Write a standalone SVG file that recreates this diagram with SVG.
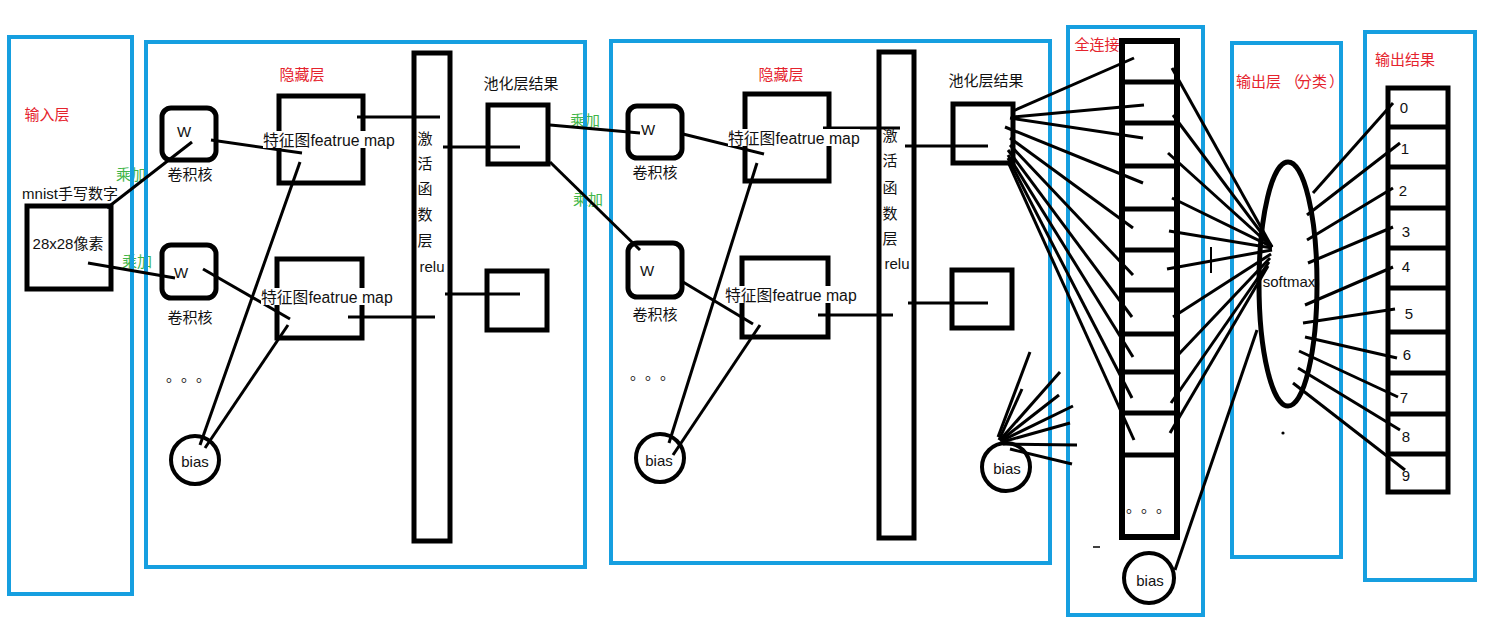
<svg xmlns="http://www.w3.org/2000/svg" width="1485" height="632" viewBox="0 0 1485 632">
<style>
.t{font-family:"Liberation Sans","Noto Sans CJK SC",sans-serif;font-size:15px;fill:#111}
.cj{font-family:"Noto Sans CJK SC","Liberation Sans",sans-serif}
.fm{font-size:15.8px}
.c{text-anchor:middle;dominant-baseline:central}
.red{fill:#e5232d}
.green{fill:#41b549}
.blue{fill:none;stroke:#169fe0;stroke-width:4}
.box{fill:none;stroke:#000;stroke-width:5}
.ln{stroke:#000;stroke-width:3;fill:none}
.bg{fill:#fff}
</style>
<rect width="1485" height="632" fill="#fff"/>

<g id="labels-green">
<text class="t c cj green" x="131" y="173">乘加</text>
<text class="t c cj green" x="137" y="260">乘加</text>
<text class="t c cj green" x="585" y="119">乘加</text>
<text class="t c cj green" x="588" y="198">乘加</text>
</g>

<g id="panels">
<rect id="panel-input" class="blue" x="9" y="37" width="123" height="557"/>
<rect id="panel-hidden1" class="blue" x="146" y="42" width="439" height="525"/>
<rect id="panel-hidden2" class="blue" x="611" y="41" width="439" height="522"/>
<rect id="panel-fc" class="blue" x="1068" y="27" width="135" height="588"/>
<rect id="panel-out" class="blue" x="1232" y="43" width="109" height="514"/>
<rect id="panel-result" class="blue" x="1365" y="32" width="110" height="548"/>
<text class="t c cj red" x="47" y="113">输入层</text>
<text class="t c cj red" x="302" y="73">隐藏层</text>
<text class="t c cj red" x="781" y="73">隐藏层</text>
<text class="t c cj red" x="1097" y="43">全连接</text>
<text class="t cj red" x="1236 1251 1266 1285 1297 1312 1329" y="80" dominant-baseline="central">输出层（分类）</text>
<text class="t c cj red" x="1405" y="58">输出结果</text>
</g>

<g id="connectors">
<line class="ln" x1="107" y1="208" x2="192" y2="142"/>
<line class="ln" x1="88" y1="263" x2="175" y2="278"/>
<line class="ln" x1="211" y1="140" x2="302" y2="153"/>
<line class="ln" x1="203" y1="269" x2="290" y2="319"/>
<line class="ln" x1="200" y1="445" x2="300" y2="162"/>
<line class="ln" x1="205" y1="448" x2="288" y2="325"/>
<line class="ln" x1="357" y1="117" x2="440" y2="117"/>
<line class="ln" x1="443" y1="147" x2="520" y2="147"/>
<line class="ln" x1="348" y1="317" x2="435" y2="317"/>
<line class="ln" x1="445" y1="294" x2="520" y2="294"/>
<line class="ln" x1="550" y1="125" x2="640" y2="133"/>
<line class="ln" x1="550" y1="162" x2="640" y2="250"/>

<line class="ln" x1="683" y1="134" x2="764" y2="154"/>
<line class="ln" x1="683" y1="282" x2="753" y2="324"/>
<line class="ln" x1="669" y1="443" x2="757" y2="163"/>
<line class="ln" x1="673" y1="455" x2="760" y2="325"/>
<line class="ln" x1="823" y1="128" x2="900" y2="128"/>
<line class="ln" x1="905" y1="146" x2="988" y2="146"/>
<line class="ln" x1="818" y1="315" x2="893" y2="315"/>
<line class="ln" x1="908" y1="303" x2="988" y2="303"/>

<line class="ln" x1="998" y1="437" x2="1030" y2="352"/>
<line class="ln" x1="999" y1="440" x2="1022" y2="389"/>
<line class="ln" x1="1000" y1="440" x2="1060" y2="372"/>
<line class="ln" x1="1000" y1="441" x2="1059" y2="395"/>
<line class="ln" x1="1001" y1="441" x2="1073" y2="406"/>
<line class="ln" x1="1002" y1="442" x2="1070" y2="423"/>
<line class="ln" x1="1003" y1="444" x2="1077" y2="445"/>
<line class="ln" x1="1010" y1="449" x2="1072" y2="464"/>

<line class="ln" x1="1013" y1="111" x2="1134" y2="58"/>
<line class="ln" x1="1013" y1="117" x2="1144" y2="105"/>
<line class="ln" x1="1010" y1="118" x2="1143" y2="138"/>
<line class="ln" x1="1005" y1="127" x2="1143" y2="183"/>
<line class="ln" x1="1010" y1="138" x2="1133" y2="228"/>
<line class="ln" x1="1010" y1="145" x2="1133" y2="275"/>
<line class="ln" x1="1008" y1="150" x2="1132" y2="317"/>
<line class="ln" x1="1008" y1="155" x2="1133" y2="357"/>
<line class="ln" x1="1008" y1="158" x2="1132" y2="398"/>
<line class="ln" x1="1008" y1="162" x2="1134" y2="440"/>

<line class="ln" x1="1172" y1="68" x2="1272" y2="247"/>
<line class="ln" x1="1173" y1="115" x2="1272" y2="247"/>
<line class="ln" x1="1168" y1="153" x2="1272" y2="247"/>
<line class="ln" x1="1172" y1="198" x2="1272" y2="247"/>
<line class="ln" x1="1169" y1="231" x2="1272" y2="248"/>
<line class="ln" x1="1167" y1="269" x2="1272" y2="250"/>
<line class="ln" x1="1173" y1="317" x2="1271" y2="254"/>
<line class="ln" x1="1178" y1="355" x2="1270" y2="258"/>
<line class="ln" x1="1171" y1="403" x2="1269" y2="262"/>
<line class="ln" x1="1170" y1="433" x2="1268" y2="266"/>
<line class="ln" x1="1175" y1="570" x2="1257" y2="330"/>

<line class="ln" x1="1313" y1="193" x2="1393" y2="103"/>
<line class="ln" x1="1307" y1="215" x2="1400" y2="143"/>
<line class="ln" x1="1307" y1="240" x2="1393" y2="188"/>
<line class="ln" x1="1308" y1="263" x2="1393" y2="227"/>
<line class="ln" x1="1305" y1="305" x2="1393" y2="267"/>
<line class="ln" x1="1303" y1="323" x2="1395" y2="309"/>
<line class="ln" x1="1305" y1="337" x2="1397" y2="358"/>
<line class="ln" x1="1299" y1="351" x2="1398" y2="397"/>
<line class="ln" x1="1298" y1="368" x2="1400" y2="430"/>
<line class="ln" x1="1293" y1="383" x2="1405" y2="470"/>

<line x1="1211" y1="247" x2="1211" y2="273" stroke="#000" stroke-width="2"/>
<line x1="1093" y1="547" x2="1100" y2="547" stroke="#000" stroke-width="1.5"/>
<circle cx="1283" cy="433" r="1.6" fill="#000"/>
</g>

<g id="node-mnist">
<rect class="box" x="27" y="206" width="84" height="83"/>
<text class="t c" x="70" y="193">mnist手写数字</text>
<text class="t c" x="68" y="243">28x28像素</text>
</g>

<g id="node-w1">
<rect class="box" x="162" y="108" width="54" height="52" rx="9"/>
<text class="t c" x="184" y="131">W</text>
<text class="t c cj" x="190" y="173">卷积核</text>
</g>
<g id="node-w2">
<rect class="box" x="162" y="245" width="54" height="53" rx="9"/>
<text class="t c" x="181" y="272">W</text>
<text class="t c cj" x="190" y="316">卷积核</text>
</g>
<g id="node-fm1">
<rect class="box" x="279" y="96" width="84" height="87"/>
<rect class="bg" x="263" y="131" width="132" height="17"/>
<text class="t fm" x="263" y="140" dominant-baseline="central">特征图featrue map</text>
</g>
<g id="node-fm2">
<rect class="box" x="277" y="259" width="85" height="79"/>
<rect class="bg" x="261" y="288" width="132" height="17"/>
<text class="t fm" x="261" y="297" dominant-baseline="central">特征图featrue map</text>
</g>
<g id="node-dots1">
<text class="t cj" x="166 181 196" y="381">。。。</text>
</g>
<g id="node-bias1">
<circle cx="195" cy="460" r="24" fill="none" stroke="#000" stroke-width="4"/>
<text class="t c" x="195" y="461">bias</text>
</g>
<g id="node-relu1">
<rect class="box" x="414" y="53" width="36" height="488"/>
<text class="t c cj" x="425" y="137">激</text>
<text class="t c cj" x="425" y="162">活</text>
<text class="t c cj" x="425" y="187">函</text>
<text class="t c cj" x="425" y="213">数</text>
<text class="t c cj" x="425" y="239">层</text>
<text class="t c" x="432" y="266">relu</text>
</g>
<g id="node-pool1">
<text class="t c cj" x="521" y="82">池化层结果</text>
<rect class="box" x="488" y="105" width="60" height="59"/>
</g>
<g id="node-pool2">
<rect class="box" x="487" y="271" width="60" height="59"/>
</g>

<g id="node-w3">
<rect class="box" x="628" y="106" width="54" height="52" rx="9"/>
<text class="t c" x="648" y="129">W</text>
<text class="t c cj" x="655" y="171">卷积核</text>
</g>
<g id="node-w4">
<rect class="box" x="628" y="243" width="54" height="54" rx="9"/>
<text class="t c" x="647" y="270">W</text>
<text class="t c cj" x="655" y="313">卷积核</text>
</g>
<g id="node-fm3">
<rect class="box" x="745" y="94" width="84" height="87"/>
<rect class="bg" x="728" y="129" width="132" height="17"/>
<text class="t fm" x="728" y="138" dominant-baseline="central">特征图featrue map</text>
</g>
<g id="node-fm4">
<rect class="box" x="742" y="258" width="86" height="79"/>
<rect class="bg" x="725" y="286" width="132" height="17"/>
<text class="t fm" x="725" y="295" dominant-baseline="central">特征图featrue map</text>
</g>
<g id="node-dots2">
<text class="t cj" x="630 645 660" y="379">。。。</text>
</g>
<g id="node-bias2">
<circle cx="660" cy="458" r="24" fill="none" stroke="#000" stroke-width="4"/>
<text class="t c" x="659" y="460">bias</text>
</g>
<g id="node-relu2">
<rect class="box" x="879" y="52" width="35" height="486"/>
<text class="t c cj" x="890" y="134">激</text>
<text class="t c cj" x="890" y="159">活</text>
<text class="t c cj" x="890" y="186">函</text>
<text class="t c cj" x="890" y="212">数</text>
<text class="t c cj" x="890" y="237">层</text>
<text class="t c" x="897" y="263">relu</text>
</g>
<g id="node-pool3">
<text class="t c cj" x="986" y="79">池化层结果</text>
<rect class="box" x="953" y="104" width="60" height="59"/>
</g>
<g id="node-pool4">
<rect class="box" x="952" y="270" width="60" height="58"/>
</g>
<g id="node-bias3">
<circle cx="1006" cy="467" r="24" fill="none" stroke="#000" stroke-width="4"/>
<text class="t c" x="1007" y="468">bias</text>
</g>

<g id="node-fc">
<rect x="1122" y="41" width="55" height="496" fill="none" stroke="#000" stroke-width="6"/>
<path d="M1122 82H1177M1122 123H1177M1122 166H1177M1122 209H1177M1122 250H1177M1122 290H1177M1122 334H1177M1122 372H1177M1122 413H1177M1122 455H1177" stroke="#000" stroke-width="5"/>
<text class="t cj" x="1126 1141 1156" y="512">。。。</text>
</g>
<g id="node-bias4">
<circle cx="1149" cy="578" r="25" fill="none" stroke="#000" stroke-width="4"/>
<text class="t c" x="1150" y="580">bias</text>
</g>

<g id="node-softmax">
<ellipse cx="1288" cy="284" rx="29" ry="122" fill="none" stroke="#000" stroke-width="5"/>
<text class="t c" x="1289" y="281">softmax</text>
</g>

<g id="node-result">
<rect x="1388" y="88" width="60" height="404" fill="none" stroke="#000" stroke-width="5"/>
<path d="M1388 127H1448M1388 167H1448M1388 208H1448M1388 248H1448M1388 288H1448M1388 332H1448M1388 373H1448M1388 414H1448M1388 454H1448" stroke="#000" stroke-width="5"/>
<text class="t c" x="1404" y="107" font-size="14">0</text>
<text class="t c" x="1405" y="148" font-size="14">1</text>
<text class="t c" x="1403" y="190" font-size="14">2</text>
<text class="t c" x="1406" y="231" font-size="14">3</text>
<text class="t c" x="1406" y="266" font-size="14">4</text>
<text class="t c" x="1409" y="313" font-size="14">5</text>
<text class="t c" x="1407" y="354" font-size="14">6</text>
<text class="t c" x="1404" y="397" font-size="14">7</text>
<text class="t c" x="1406" y="436" font-size="14">8</text>
<text class="t c" x="1406" y="475" font-size="14">9</text>
</g>
</svg>
